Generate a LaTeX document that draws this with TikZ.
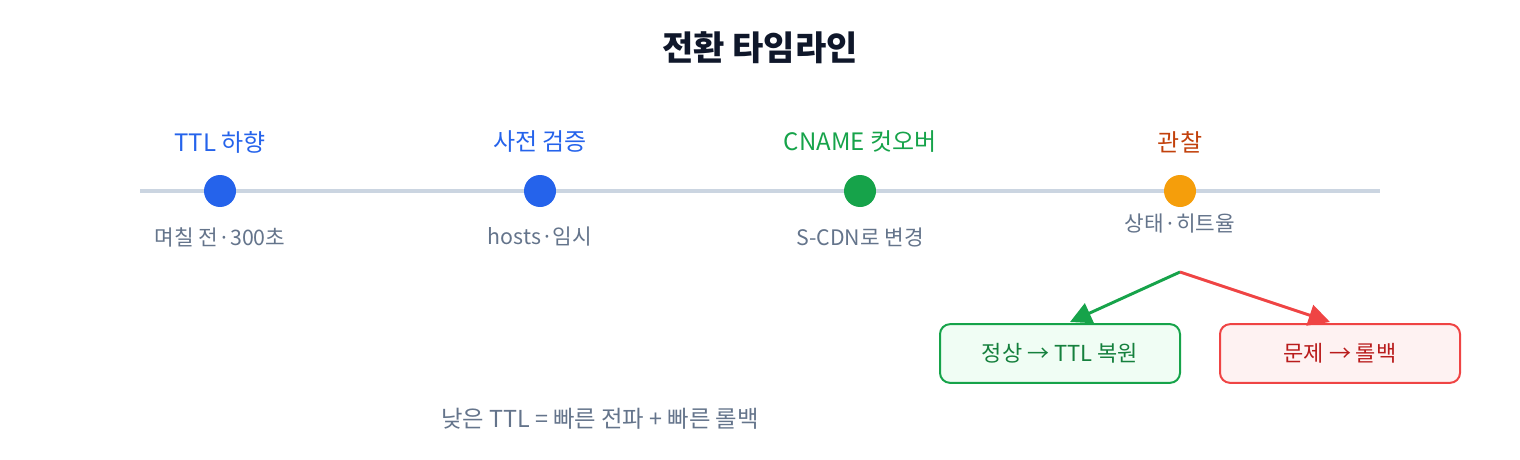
\documentclass[tikz,border=0pt]{standalone}
\usepackage{fontspec}
\setmainfont{Noto Sans CJK KR}
\usetikzlibrary{arrows.meta}
\definecolor{titlec}{HTML}{0F172A}
\definecolor{linec}{HTML}{CBD5E1}
\definecolor{subc}{HTML}{64748B}
\definecolor{blue1}{HTML}{2563EB}
\definecolor{green1}{HTML}{16A34A}
\definecolor{green2}{HTML}{15803D}
\definecolor{orange1}{HTML}{F59E0B}
\definecolor{orange2}{HTML}{C2410C}
\definecolor{red1}{HTML}{EF4444}
\definecolor{red2}{HTML}{B91C1C}
\definecolor{gfill}{HTML}{F0FDF4}
\definecolor{rfill}{HTML}{FEF2F2}
\tikzset{
  dot/.style={circle, minimum size=24pt, inner sep=0pt, fill=#1},
  toplabel/.style={font=\fontsize{18pt}{21pt}\selectfont, text=#1, inner sep=0pt},
  sublabel/.style={font=\fontsize{16pt}{19pt}\selectfont, text=subc, inner sep=0pt},
  outbox/.style={draw=#1, line width=1.5pt, rounded corners=7.5pt, minimum width=180pt, minimum height=44pt, inner sep=0pt, font=\fontsize{16.5pt}{19pt}\selectfont},
  branch/.style={draw=#1, line width=2.2pt, -{Triangle[length=16pt,width=16pt]}}
}
\begin{document}
\begin{tikzpicture}[x=0.75pt,y=-0.75pt]
\useasboundingbox (0,0) rectangle (1520,460);
\node[font=\fontsize{25.5pt}{30pt}\selectfont\bfseries, text=titlec, inner sep=0pt] (title) at (760,48) {전환 타임라인};
\coordinate (ls) at (140,191);
\coordinate (le) at (1380,191);
\draw[linec, line width=3pt] (ls) -- (le);
\node[dot=blue1] (d1) at (220,191) {};
\node[dot=blue1] (d2) at (540,191) {};
\node[dot=green1] (d3) at (860,191) {};
\node[dot=orange1] (d4) at (1180,191) {};
\node[toplabel=blue1] (t1) at (220,142) {TTL 하향};
\node[toplabel=blue1] (t2) at (540,142) {사전 검증};
\node[toplabel=green1] (t3) at (860,142) {CNAME 컷오버};
\node[toplabel=orange2] (t4) at (1180,142) {관찰};
\node[sublabel] (s1) at (220,237) {며칠 전·300초};
\node[sublabel] (s2) at (540,237) {hosts·임시};
\node[sublabel] (s3) at (860,237) {S-CDN로 변경};
\node[sublabel] (s4) at (1180,224) {상태·히트율};
\node[outbox=green1, fill=gfill, text=green2] (ok) at (1060,353.5) {정상 → TTL 복원};
\node[outbox=red1, fill=rfill, text=red2] (bad) at (1340,353.5) {문제 → 롤백};
\coordinate (split) at (1180,272);
\coordinate (okin) at (1070,322);
\coordinate (badin) at (1330,322);
\draw[branch=green1] (split) -- (okin);
\draw[branch=red1] (split) -- (badin);
\node[sublabel, font=\fontsize{17.5pt}{20pt}\selectfont] (note) at (600,419) {낮은 TTL = 빠른 전파 + 빠른 롤백};
\end{tikzpicture}
\end{document}
